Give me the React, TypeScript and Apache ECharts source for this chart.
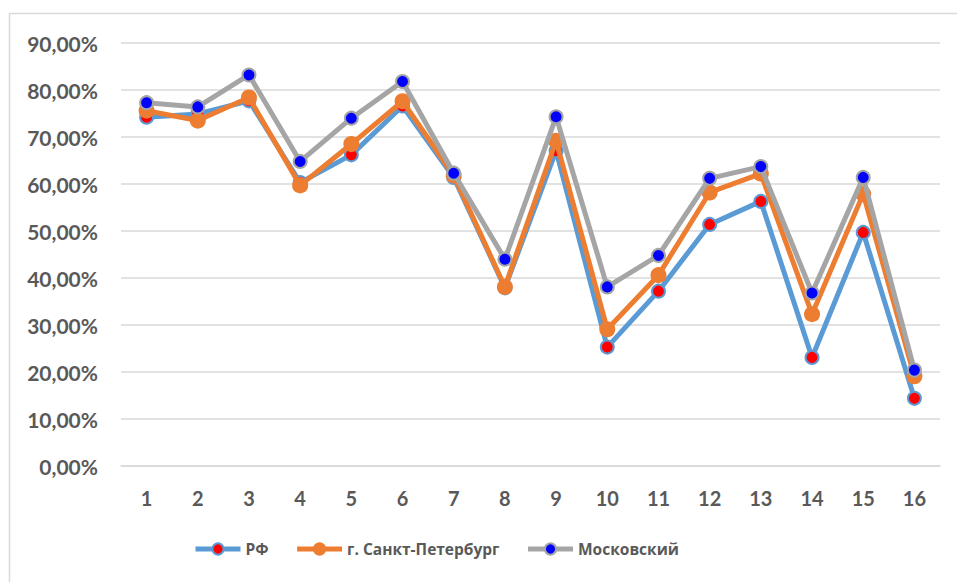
import React, { useEffect, useRef } from "react";
import * as echarts from "echarts";

const categories = ["1", "2", "3", "4", "5", "6", "7", "8", "9", "10", "11", "12", "13", "14", "15", "16"];
const rfValues = [74.2, 74.9, 77.7, 60.3, 66.2, 76.6, 61.4, 37.9, 67.1, 25.3, 37.2, 51.4, 56.3, 23.1, 49.7, 14.4];
const spbValues = [75.6, 73.5, 78.4, 59.7, 68.5, 77.6, 61.8, 38.1, 69.2, 29.1, 40.6, 58.2, 62.2, 32.3, 57.9, 19.1];
const moscowValues = [77.3, 76.4, 83.2, 64.8, 74.0, 81.8, 62.3, 44.0, 74.3, 38.1, 44.8, 61.2, 63.7, 36.8, 61.4, 20.4];
const seriesNames = ["РФ", "г. Санкт-Петербург", "Московский"];

const FONT = "Lato, 'Open Sans', sans-serif";
const TEXT = "#595959";

export default function App() {
  const ref = useRef<HTMLDivElement>(null);
  useEffect(() => {
    if (!ref.current) return;
    const chart = echarts.init(ref.current, undefined, { renderer: "svg" });
    const mk = (name: string, data: number[], line: string, fill: string, size: number, z: number) => ({
      name,
      type: "line",
      data,
      z,
      symbol: "circle",
      symbolSize: size,
      lineStyle: { color: line, width: 5 },
      itemStyle: { color: fill, borderColor: line, borderWidth: 2 },
      emphasis: { disabled: true },
    });
    chart.setOption({
      animation: false,
      backgroundColor: "#ffffff",
      textStyle: { fontFamily: FONT },
      graphic: [
        {
          type: "rect",
          shape: { x: 9.5, y: 13.5, width: 1000, height: 700 },
          style: { fill: "none", stroke: "#d9d9d9", lineWidth: 1.5 },
          silent: true,
        },
      ],
      grid: { left: 121, right: 17, top: 43, bottom: 116, containLabel: false },
      legend: {
        left: 193,
        top: 541,
        padding: 0,
        itemWidth: 45,
        itemHeight: 14,
        itemGap: 26,
        lineStyle: { width: 5 },
        textStyle: { color: TEXT, fontSize: 15.5, fontWeight: "bold", fontFamily: "'Open Sans', sans-serif" },
        data: seriesNames,
      },
      xAxis: {
        type: "category",
        data: categories,
        boundaryGap: true,
        axisLine: { show: true, lineStyle: { color: "#d9d9d9", width: 1.5 } },
        axisTick: { show: false },
        axisLabel: { color: TEXT, fontSize: 20, fontWeight: "bold", margin: 22, fontFamily: FONT },
      },
      yAxis: {
        type: "value",
        min: 0,
        max: 90,
        interval: 10,
        axisLine: { show: false },
        axisTick: { show: false },
        splitLine: { lineStyle: { color: "#d9d9d9", width: 1.5 } },
        axisLabel: {
          color: TEXT,
          fontSize: 21,
          fontWeight: "bold",
          margin: 23,
          fontFamily: FONT,
          formatter: (v: number) => v.toFixed(2).replace(".", ",") + "%",
        },
      },
      series: [
        mk(seriesNames[0], rfValues, "#5B9BD5", "#FF0000", 13, 2),
        mk(seriesNames[1], spbValues, "#ED7D31", "#ED7D31", 14, 3),
        mk(seriesNames[2], moscowValues, "#A5A5A5", "#0000FF", 13, 4),
      ],
    });
    return () => chart.dispose();
  }, []);
  return (
    <div
      ref={ref}
      style={{ position: "fixed", left: 0, top: 0, width: 957, height: 582, background: "#fff" }}
    />
  );
}
